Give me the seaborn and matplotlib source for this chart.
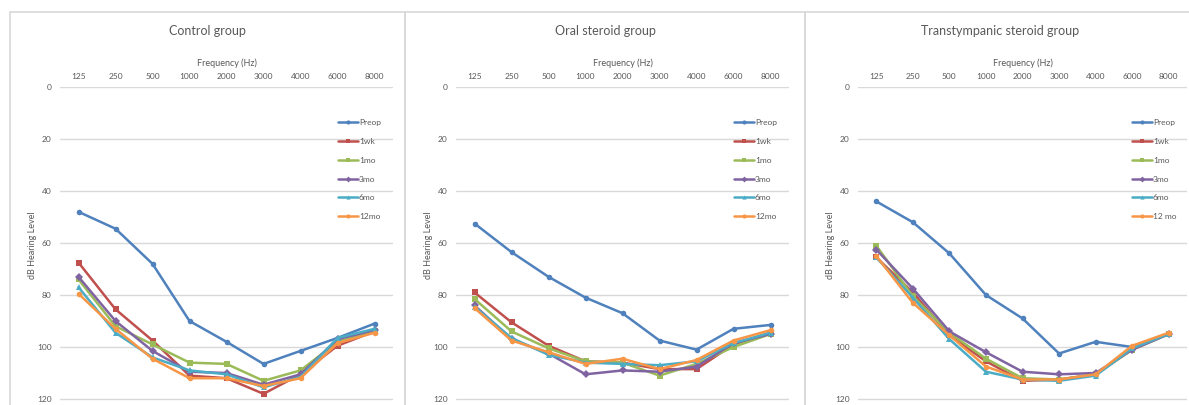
import numpy as np
import pandas as pd
import matplotlib
matplotlib.use('Agg')
import matplotlib.pyplot as plt
import seaborn as sns

# audiogram values (dB HL)
freqs = ['125', '250', '500', '1000', '2000', '3000', '4000', '6000', '8000']
times = ['Preop', '1wk', '1mo', '3mo', '6mo', '12mo']
titles = ['Control group', 'Oral steroid group', 'Transtympanic steroid group']

control = {
    'Preop': [48, 54.5, 68, 90, 98, 106.5, 101.5, 96.5, 91],
    '1wk':   [67.5, 85.5, 97.5, 111, 112, 118, 110.5, 99.5, 94],
    '1mo':   [74, 92, 99, 106, 106.5, 113, 109, 98, 94],
    '3mo':   [73, 90, 101.5, 109.5, 110, 114.5, 110.5, 97, 93.5],
    '6mo':   [77, 94.5, 104, 109, 110.5, 115.5, 111.5, 96.5, 93],
    '12mo':  [79.5, 93, 104.5, 112, 112, 115, 112, 98.5, 94.5],
}
oral = {
    'Preop': [52.5, 63.5, 73, 81, 87, 97.5, 101, 93, 91.5],
    '1wk':   [79, 90.5, 99.5, 105.5, 106, 108.5, 108.5, 99, 94.5],
    '1mo':   [81.5, 94, 100.5, 105.5, 106, 111, 106.5, 100, 95],
    '3mo':   [84, 97, 102.5, 110.5, 109, 109.5, 107.5, 98.5, 95],
    '6mo':   [84.5, 96.5, 103, 106, 106.5, 107, 105.5, 98.5, 94.5],
    '12mo':  [85, 97.5, 102, 106.5, 104.5, 108.5, 105, 97.5, 93.5],
}
transtympanic = {
    'Preop': [44, 52, 64, 80, 89, 102.5, 98, 100, 95],
    '1wk':   [65.5, 79, 95.5, 105.5, 113, 112.5, 110.5, 101, 95],
    '1mo':   [61, 80.5, 94.5, 104.5, 112, 112.5, 110.5, 101, 95],
    '3mo':   [62.5, 77.5, 94, 102, 109.5, 110.5, 110, 101, 95],
    '6mo':   [65.5, 81, 97, 109.5, 112.5, 113, 111, 100.5, 95],
    '12mo':  [65, 83, 95.5, 107.5, 112.5, 112.5, 110.5, 99.5, 94.5],
}
legend_names = [
    ['Preop', '1wk', '1mo', '3mo', '6mo', '12mo'],
    ['Preop', '1wk', '1mo', '3mo', '6mo', '12mo'],
    ['Preop', '1wk', '1mo', '3mo', '6mo', '12 mo'],
]

colors = ['#4F81BD', '#C0504D', '#9BBB59', '#8064A2', '#4BACC6', '#F79646']
markers = ['o', 's', 's', 'D', '^', 'o']
txt = '#595959'

sns.set_style('white')
plt.rcParams['font.family'] = ['Lato', 'DejaVu Sans']

W, H = 1189, 405
fig = plt.figure(figsize=(W / 100, H / 100), dpi=100)

# panel frames (px): left, right
frames = [(10, 405), (405, 805), (805, 1195)]
axes_px = [(60, 393), (456, 789), (858, 1187)]
top_px = 87
ymax = 122.3

for k, data in enumerate([control, oral, transtympanic]):
    fl, fr = frames[k]
    fig.patches.append(plt.Rectangle((fl / W, -0.05), (fr - fl) / W, 1.05 - 12 / H,
                                     transform=fig.transFigure, fill=False,
                                     edgecolor='#D9D9D9', linewidth=1.2))
    al, ar = axes_px[k]
    ax = fig.add_axes([al / W, 0, (ar - al) / W, 1 - top_px / H])

    rows = []
    for t in times:
        for i, v in enumerate(data[t]):
            rows.append({'pos': i, 'db': v, 'time': t})
    df = pd.DataFrame(rows)

    sns.lineplot(data=df, x='pos', y='db', hue='time', style='time',
                 palette=colors, markers=markers, dashes=False, ax=ax,
                 linewidth=1.8, markersize=4, markeredgewidth=0, legend=False)

    ax.set_xlim(-0.5, 8.5)
    ax.set_ylim(ymax, 0)
    ax.set_yticks(range(0, 121, 20))
    ax.set_xticks(range(len(freqs)))
    ax.set_xticklabels(freqs)
    ax.xaxis.tick_top()
    ax.xaxis.set_label_position('top')
    ax.tick_params(axis='both', length=0, labelsize=6, colors=txt)
    ax.tick_params(axis='x', pad=5)
    ax.tick_params(axis='y', pad=6)
    ax.set_xlabel('Frequency (Hz)', fontsize=6.5, color=txt, labelpad=5)
    ax.set_ylabel('dB Hearing Level', fontsize=6.5, color=txt)
    ax.yaxis.set_label_coords(-0.07, 1 - 158 / 318)
    ax.grid(axis='y', color='#D9D9D9', linewidth=1)
    ax.grid(axis='x', visible=False)
    for s in ax.spines.values():
        s.set_visible(False)

    handles = [plt.Line2D([], [], color=c, marker=m, markersize=3, linewidth=1.8,
                          markeredgewidth=0) for c, m in zip(colors, markers)]
    ax.legend(handles, legend_names[k], loc='upper left',
              bbox_to_anchor=((ar - al - 55) / (ar - al), 1 - 32 / 318),
              frameon=False, fontsize=6, handlelength=2.4, handletextpad=0.1,
              labelspacing=1.42, borderpad=0, borderaxespad=0, labelcolor=txt)

    fig.text((fl + fr) / 2 / W, 1 - 31 / H, titles[k], ha='center', va='center',
             fontsize=9, color=txt)

fig.savefig('out.png', dpi=100)
